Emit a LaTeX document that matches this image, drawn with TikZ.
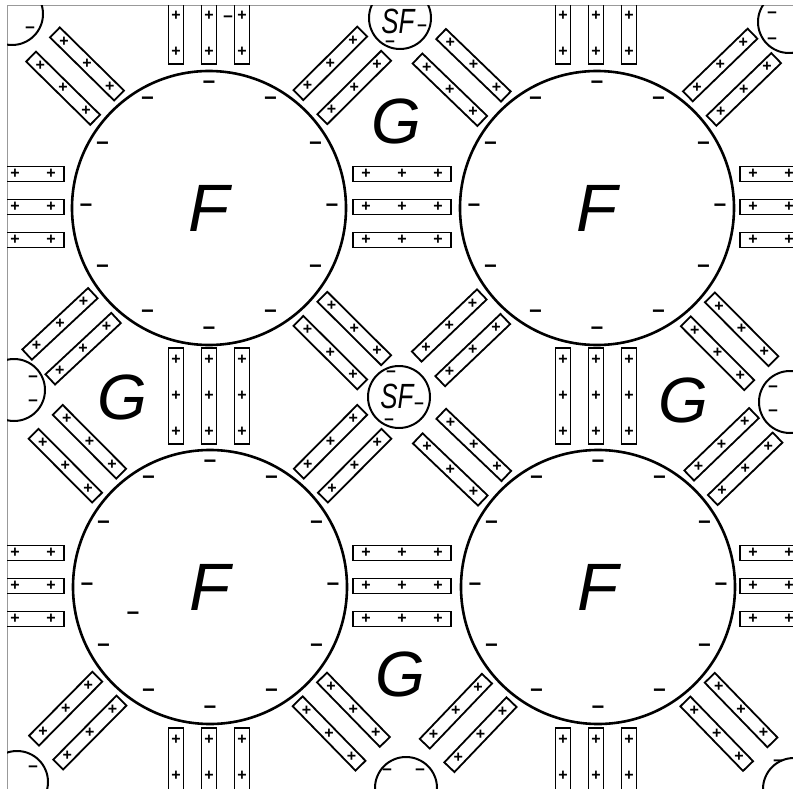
\documentclass[tikz,border=0pt]{standalone}
\usepackage{fontspec}
\setmainfont{Liberation Sans}
\usetikzlibrary{calc}

\tikzset{
  grain/.style={circle, draw, line width=2.6pt, minimum size=274pt, inner sep=0pt,
    font=\fontsize{67}{67}\selectfont\itshape},
  sfgrain/.style={circle, draw, line width=2pt, minimum size=62pt, inner sep=0pt},
  platelet/.style={draw, line width=1.8pt, inner sep=0pt},
  hplate/.style={platelet, minimum width=98pt, minimum height=15pt},
  vplate/.style={platelet, minimum width=15pt, minimum height=96pt},
  dplate/.style={platelet, minimum width=90pt, minimum height=14pt},
  poschg/.style={font=\fontsize{16}{16}\selectfont\bfseries, inner sep=0pt},
  negchg/.style={font=\fontsize{22}{22}\selectfont\bfseries, inner sep=0pt},
  sfneg/.style={font=\fontsize{17}{17}\selectfont\bfseries, inner sep=0pt},
  gaplabel/.style={font=\fontsize{64}{64}\selectfont\itshape, inner sep=0pt},
  sflabel/.style={font=\fontsize{35}{35}\selectfont\itshape, inner sep=0pt,
    xscale=0.74, transform shape},
}

% two platelets on the line from a grain to a small grain
\newcommand{\plateletpair}[2]{%
  \path let \p1=($(#2)-(#1)$), \n1={atan2(\y1,\x1)} in
    node[dplate, rotate=\n1] (pa) at ($(#1)!188pt!(#2)!17pt!90:(#2)$) {}
    node[dplate, rotate=\n1] (pb) at ($(#1)!188pt!(#2)!17pt!270:(#2)$) {};
  \foreach \b in {pa,pb}
    \foreach \t in {-0.7,0,0.7}
      \node[poschg] at ($(\b.center)!\t!(\b.east)$) {+};
}

\begin{document}
\begin{tikzpicture}[x=1pt, y=-1pt]
\useasboundingbox (0,0) rectangle (793,789);
\draw[gray!80, line width=1pt] (7,789) -- (7,6) -- (793,6);
\begin{scope}
\clip (7,6) rectangle (793,789);

% large grains
\node[grain] (F1) at (209,208) {F};
\node[grain] (F2) at (597,208) {F};
\node[grain] (F3) at (210,587) {F};
\node[grain] (F4) at (598,587) {F};
\foreach \g in {F1,F2,F3,F4}
  \foreach \a in {0,30,...,330}
    \node[negchg] at ($(\g)+(\a:123)$) {−};
\node[negchg] (xneg) at (133,616) {−};

% small grains
\node[sfgrain] (S1) at (12,14) {};
\node[sfgrain] (S2) at (400,18) {};
\node[sfgrain] (S3) at (789,22) {};
\node[sfgrain] (S4) at (14,390) {};
\node[sfgrain] (S5) at (399,397) {};
\node[sfgrain] (S6) at (790,402) {};
\node[sfgrain] (S7) at (17,782) {};
\node[sfgrain] (S8) at (406,788) {};
\node[sfgrain] (S9) at (794,789) {};

\node[sflabel] (sf2) at (398,21) {SF};
\node[sfneg] at (422,28) {−};
\node[sfneg] at (390,44) {−};
\node[sflabel] (sf5) at (397,396) {SF};
\node[sfneg] at (391,374) {−};
\node[sfneg] at (389,422) {−};
\node[sfneg] at (419,406) {−};

\node[sfneg] at (30,30) {−};
\node[sfneg] at (33,379) {−};
\node[sfneg] at (33,403) {−};
\node[sfneg] at (33,769) {−};
\node[sfneg] at (387,772) {−};
\node[sfneg] at (420,772) {−};
\node[sfneg] at (778,763) {−};
\node[sfneg] at (773,389) {−};
\node[sfneg] at (773,413) {−};
\node[sfneg] at (772,15) {−};
\node[sfneg] at (772,41) {−};

% horizontal platelets
\foreach \cx in {15,402,789}
  \foreach \cy in {207,586}
    \foreach \d in {-33,0,33} {
      \node[hplate] at (\cx,\cy+\d) {};
      \foreach \p in {-36,0,36}
        \node[poschg] at (\cx+\p,\cy+\d) {+};
    }

% vertical platelets
\foreach \cx in {209,596}
  \foreach \cy in {16,396,776}
    \foreach \d in {-33,0,33} {
      \node[vplate] at (\cx+\d,\cy) {};
      \foreach \p in {-36,0,36}
        \node[poschg] at (\cx+\d,\cy+\p) {+};
    }
\node[sfneg] at (228,19) {−};

% diagonal platelets
\plateletpair{F1}{S1} \plateletpair{F1}{S2} \plateletpair{F1}{S4} \plateletpair{F1}{S5}
\plateletpair{F2}{S2} \plateletpair{F2}{S3} \plateletpair{F2}{S5} \plateletpair{F2}{S6}
\plateletpair{F3}{S4} \plateletpair{F3}{S5} \plateletpair{F3}{S7} \plateletpair{F3}{S8}
\plateletpair{F4}{S5} \plateletpair{F4}{S6} \plateletpair{F4}{S8} \plateletpair{F4}{S9}

% gaps
\node[gaplabel] (G1) at (396,121) {G};
\node[gaplabel] (G2) at (122,397) {G};
\node[gaplabel] (G3) at (683,400) {G};
\node[gaplabel] (G4) at (400,674) {G};
\end{scope}
\end{tikzpicture}
\end{document}
